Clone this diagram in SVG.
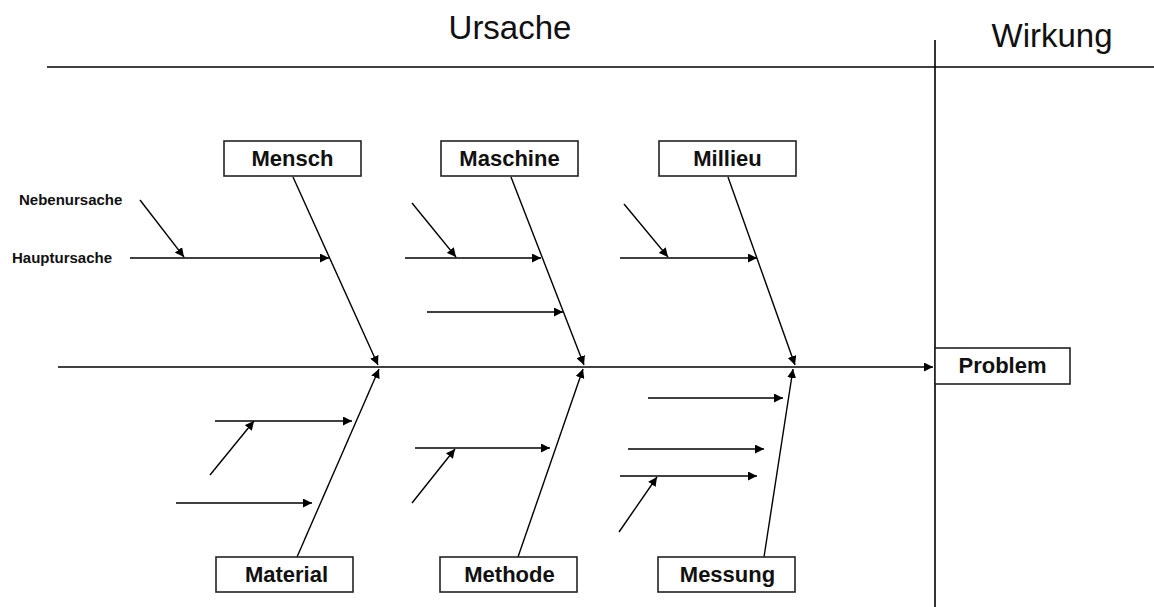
<svg xmlns="http://www.w3.org/2000/svg" width="1154" height="607" viewBox="0 0 1154 607">
<style>
.ln{stroke:#000;stroke-width:1.6;fill:none}
.ar{stroke:#000;stroke-width:1.4;fill:none;marker-end:url(#ah)}
.box{fill:#fff;stroke:#222;stroke-width:1.6}
.bl{font-family:"Liberation Sans",Arial,sans-serif;font-weight:bold;font-size:22px;text-anchor:middle;fill:#111}
.sm{font-family:"Liberation Sans",Arial,sans-serif;font-weight:bold;font-size:15px;fill:#111}
.hd{font-family:"Liberation Sans",Arial,sans-serif;font-size:33px;text-anchor:middle;fill:#111}
</style>
<defs>
<marker id="ah" viewBox="0 0 10 10" refX="10" refY="5" markerWidth="9" markerHeight="9" markerUnits="userSpaceOnUse" orient="auto">
<path d="M0,0 L10,5 L0,10 z" fill="#000"/>
</marker>
</defs>
<rect width="1154" height="607" fill="#fff"/>
<g id="frame">
<line class="ln" x1="47" y1="67" x2="1154" y2="67"/>
<line class="ln" x1="935" y1="40" x2="935" y2="607"/>
<text class="hd" x="510" y="39">Ursache</text>
<text class="hd" x="1052" y="47">Wirkung</text>
<text class="sm" x="19" y="205">Nebenursache</text>
<text class="sm" x="12" y="263">Hauptursache</text>
</g>
<g id="connectors">
<line class="ar" x1="58" y1="367" x2="933" y2="367"/>
<line class="ar" x1="293" y1="177" x2="378" y2="365"/>
<line class="ar" x1="511" y1="177" x2="584" y2="365"/>
<line class="ar" x1="728" y1="177" x2="795" y2="365"/>
<line class="ar" x1="297" y1="557" x2="379" y2="369"/>
<line class="ar" x1="518" y1="557" x2="583" y2="369"/>
<line class="ar" x1="764" y1="557" x2="793" y2="369"/>
<line class="ar" x1="130" y1="258" x2="329" y2="258"/>
<line class="ar" x1="140" y1="200" x2="184" y2="257"/>
<line class="ar" x1="405" y1="258" x2="541" y2="258"/>
<line class="ar" x1="412" y1="203" x2="456" y2="257"/>
<line class="ar" x1="427" y1="312" x2="563" y2="312"/>
<line class="ar" x1="620" y1="258" x2="757" y2="258"/>
<line class="ar" x1="624" y1="204" x2="668" y2="257"/>
<line class="ar" x1="215" y1="421" x2="352" y2="421"/>
<line class="ar" x1="210" y1="475" x2="254" y2="421"/>
<line class="ar" x1="176" y1="503" x2="312" y2="503"/>
<line class="ar" x1="415" y1="448" x2="550" y2="448"/>
<line class="ar" x1="412" y1="503" x2="455" y2="449"/>
<line class="ar" x1="648" y1="398" x2="783" y2="398"/>
<line class="ar" x1="628" y1="449" x2="764" y2="449"/>
<line class="ar" x1="620" y1="476" x2="757" y2="476"/>
<line class="ar" x1="619" y1="532" x2="657" y2="477"/>
</g>
<g id="mensch"><rect class="box" x="224" y="141" width="137" height="35"/><text class="bl" x="292.5" y="166">Mensch</text></g>
<g id="maschine"><rect class="box" x="441" y="141" width="137" height="35"/><text class="bl" x="509.5" y="166">Maschine</text></g>
<g id="millieu"><rect class="box" x="659" y="141" width="137" height="35"/><text class="bl" x="727.5" y="166">Millieu</text></g>
<g id="material"><rect class="box" x="216" y="557" width="137" height="35"/><text class="bl" x="286.5" y="582">Material</text></g>
<g id="methode"><rect class="box" x="440" y="557" width="137" height="35"/><text class="bl" x="509.5" y="582">Methode</text></g>
<g id="messung"><rect class="box" x="658" y="557" width="137" height="35"/><text class="bl" x="727.5" y="582">Messung</text></g>
<g id="problem"><rect class="box" x="935" y="348" width="135" height="36"/><text class="bl" x="1002.5" y="373">Problem</text></g>
</svg>
